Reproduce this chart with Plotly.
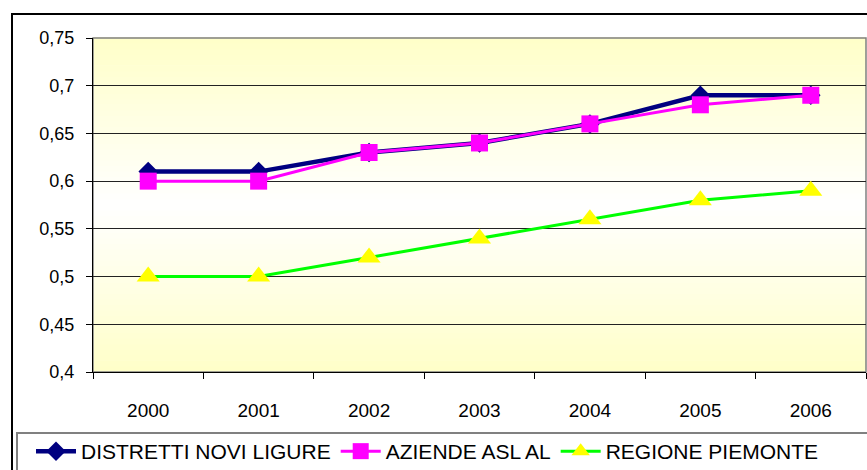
import plotly.graph_objects as go

years = ["2000", "2001", "2002", "2003", "2004", "2005", "2006"]
distretti = [0.61, 0.61, 0.63, 0.64, 0.66, 0.69, 0.69]
aziende = [0.60, 0.60, 0.63, 0.64, 0.66, 0.68, 0.69]
regione = [0.50, 0.50, 0.52, 0.54, 0.56, 0.58, 0.59]
y_tickvals = [0.4, 0.45, 0.5, 0.55, 0.6, 0.65, 0.7, 0.75]
y_ticktext = ["0,4", "0,45", "0,5", "0,55", "0,6", "0,65", "0,7", "0,75"]

W, H = 867, 470
L, R, T, B = 93, 1, 38, 98
pw, ph = W - L - R, H - T - B

def px2x(p):
    return (p - L) / pw

def px2y(p):
    return (H - B - p) / ph

fig = go.Figure()
fig.add_trace(go.Scatter(x=years, y=distretti, name="DISTRETTI NOVI LIGURE", mode="lines+markers",
                         line=dict(color="#000080", width=4.5),
                         marker=dict(symbol="diamond", size=15, color="#000080")))
fig.add_trace(go.Scatter(x=years, y=aziende, name="AZIENDE ASL AL", mode="lines+markers",
                         line=dict(color="#FF00FF", width=3),
                         marker=dict(symbol="square", size=17, color="#FF00FF")))
fig.add_trace(go.Scatter(x=years, y=regione, name="REGIONE PIEMONTE", mode="lines+markers",
                         line=dict(color="#00FF00", width=3),
                         marker=dict(symbol="triangle-up", size=20, color="#FFFF00")))

shapes = []
n = 60
for i in range(n):
    t = (i + 0.5) / n
    d = abs(t - 0.5) * 2
    g = round(255 - 55 * d)
    shapes.append(dict(type="rect", xref="x domain", yref="y domain", x0=0, x1=1,
                       y0=i / n, y1=(i + 1) / n + 0.002, line=dict(width=0),
                       fillcolor=f"rgb(255,255,{g})", layer="below"))
shapes.append(dict(type="rect", xref="x domain", yref="y domain", x0=0, x1=1, y0=0, y1=1,
                   line=dict(color="#808080", width=1.5), layer="below"))
shapes.append(dict(type="rect", xref="paper", yref="paper", x0=px2x(12), x1=px2x(880),
                   y0=px2y(490), y1=px2y(14), line=dict(color="#000000", width=2)))
shapes.append(dict(type="rect", xref="paper", yref="paper", x0=px2x(17), x1=px2x(880),
                   y0=px2y(490), y1=px2y(433), line=dict(color="#808080", width=2)))

fig.update_layout(
    width=W, height=H,
    margin=dict(l=L, r=R, t=T, b=B, autoexpand=False),
    paper_bgcolor="white", plot_bgcolor="white",
    font=dict(family="Liberation Sans, Arial, sans-serif", color="black"),
    shapes=shapes,
    showlegend=True,
    legend=dict(orientation="h", xref="paper", yref="paper",
                x=px2x(31), y=px2y(431), xanchor="left", yanchor="top",
                font=dict(size=21), bgcolor="rgba(0,0,0,0)", borderwidth=0,
                itemwidth=40, tracegroupgap=0),
    xaxis=dict(type="category", range=[-0.5, 6.5], tickson="boundaries", automargin=False,
               ticks="outside", ticklen=6, tickcolor="black", showline=True,
               linecolor="black", linewidth=1, showgrid=False, zeroline=False,
               tickfont=dict(size=19), ticklabelstandoff=21),
    yaxis=dict(range=[0.4, 0.75], tickvals=y_tickvals, ticktext=y_ticktext, automargin=False,
               ticks="outside", ticklen=6, tickcolor="black", showline=True,
               linecolor="black", linewidth=1, showgrid=True, gridcolor="#222222",
               gridwidth=1, zeroline=False, tickfont=dict(size=18), ticklabelstandoff=8),
)

fig.write_html("out.html", config={"displayModeBar": False},
               post_script="document.body.style.margin='0px';document.body.style.overflow='hidden';")
